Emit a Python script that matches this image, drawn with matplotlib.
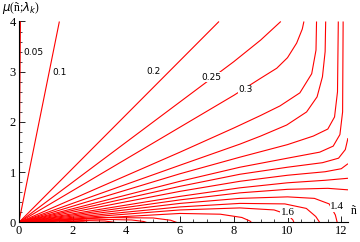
import matplotlib
matplotlib.use("Agg")
import matplotlib.pyplot as plt
import numpy as np

# contour levels and traced curves (n, mu)
lv_005 = [(0, 0), (0.06, 4)]
lv_01 = [(0, 0), (1.51, 4)]
lv_02 = [(0, 0), (7.45, 4)]
lv_025 = [(0, 0), (8.0, 3.2), (9.0, 3.63), (9.75, 4)]
lv_03 = [(0, 0), (8.0, 2.53), (9.0, 2.87), (9.6, 3.07), (10.0, 3.28), (10.34, 3.57), (10.55, 3.85), (10.61, 4)]
lv_035 = [(0, 0), (6.0, 1.40), (8.0, 1.88), (9.0, 2.13), (9.72, 2.32), (10.46, 2.58), (10.9, 2.96), (11.06, 3.43), (11.08, 4)]
lv_04 = [(0, 0), (6.0, 1.14), (8.23, 1.56), (9.0, 1.72), (9.97, 1.94), (10.71, 2.2), (11.1, 2.5), (11.3, 2.9), (11.4, 3.4), (11.42, 4)]
lv_045 = [(0, 0), (6.0, 0.97), (8.23, 1.3), (10.0, 1.55), (10.96, 1.72), (11.5, 1.86), (11.75, 2.1), (11.86, 2.6), (11.89, 4)]
lv_05 = [(0, 0), (6.0, 0.82), (8.23, 1.1), (10.0, 1.28), (11.2, 1.4), (11.7, 1.52), (11.95, 1.75), (12.05, 2.2), (12.07, 4)]
lv_055 = [(0, 0), (6.0, 0.72), (8.23, 0.96), (10.0, 1.1), (11.3, 1.19), (11.9, 1.28), (12.15, 1.45), (12.25, 1.68)]
lv_06 = [(0, 0), (6.0, 0.62), (8.23, 0.82), (10.0, 0.94), (11.4, 1.01), (12.0, 1.07), (12.25, 1.17)]
lv_07 = [(0, 0), (6.0, 0.52), (8.23, 0.69), (10.0, 0.79), (11.4, 0.84), (12.25, 0.88)]
lv_10 = [(0, 0), (6.0, 0.45), (8.23, 0.59), (10.0, 0.66), (11.5, 0.68), (12.25, 0.65)]
lv_14 = [(0, 0), (6.0, 0.38), (8.23, 0.48), (10.0, 0.51), (11.0, 0.48), (11.55, 0.37), (11.78, 0.15), (11.85, 0.0)]
lv_15 = [(0, 0), (6.0, 0.31), (8.23, 0.38), (9.9, 0.37), (10.7, 0.28), (11.05, 0.12), (11.2, 0.0)]
lv_16 = [(0, 0), (6.0, 0.25), (8.23, 0.29), (9.5, 0.25), (10.0, 0.16), (10.2, 0.05), (10.24, 0.0)]
lv_18 = [(0, 0), (6.0, 0.18), (7.5, 0.165), (8.3, 0.1), (8.6, 0.03), (8.66, 0.0)]
lv_20 = [(0, 0), (3.0, 0.1), (5.0, 0.09), (5.65, 0.045), (5.88, 0.0)]
lv_22 = [(0, 0), (2.5, 0.07), (4.2, 0.05), (4.65, 0.02), (4.76, 0.0)]
lv_25 = [(0, 0), (2.0, 0.045), (3.2, 0.03), (3.6, 0.0)]
lv_30 = [(0, 0), (1.5, 0.025), (2.4, 0.015), (2.6, 0.0)]

curves = [lv_005, lv_01, lv_02, lv_025, lv_03, lv_035, lv_04, lv_045, lv_05,
          lv_055, lv_06, lv_07, lv_10, lv_14, lv_15, lv_16, lv_18, lv_20, lv_22,
          lv_25, lv_30]

labels = ["0.05", "0.1", "0.2", "0.25", "0.3", "1.6", "1.4"]
label_pos = [(0.55, 3.38), (1.52, 2.99), (5.0, 3.0), (7.15, 2.89), (8.45, 2.64), (10.0, 0.19), (11.85, 0.31)]
label_font = ["sans", "sans", "sans", "sans", "sans", "serif", "serif"]

fig = plt.figure(figsize=(3.6, 2.42), dpi=100)
ax = fig.add_axes([0.0522, 0.0806, 0.9144, 0.8306])
ax.set_xlim(0, 12.25)
ax.set_ylim(0, 4)

for c in curves:
    xs = [p[0] for p in c]
    ys = [p[1] for p in c]
    ax.plot(xs, ys, color="#ff0000", lw=0.8, solid_capstyle="butt")

for t, (x, y), f in zip(labels, label_pos, label_font):
    fam = "Liberation Serif" if f == "serif" else "DejaVu Sans"
    ax.text(x, y, t, ha="center", va="center", fontsize=6.5 if f == "sans" else 8,
            family=fam, bbox=dict(facecolor="white", edgecolor="none", pad=0.3))

for s in ["top", "right"]:
    ax.spines[s].set_visible(False)
for s in ["left", "bottom"]:
    ax.spines[s].set_linewidth(0.8)

ax.set_xticks([0, 2, 4, 6, 8, 10, 12])
ax.set_yticks([0, 1, 2, 3, 4])
ax.set_xticks(np.arange(0, 12.26, 0.5), minor=True)
ax.set_yticks(np.arange(0, 4.01, 0.2), minor=True)
ax.tick_params(which="both", direction="in", labelsize=9)
ax.tick_params(which="major", length=4, width=0.6)
ax.tick_params(which="minor", length=2, width=0.5)
for lab in ax.get_xticklabels() + ax.get_yticklabels():
    lab.set_family("Liberation Serif")
ax.tick_params(axis="x", pad=1.5)
ax.tick_params(axis="y", pad=2)

fig.text(0.005, 0.965, r"$\mu$(ñ;$\lambda_k$)", fontsize=8.5, family="Liberation Serif", va="center", ha="left")
fig.text(0.975, 0.13, "ñ", fontsize=8.5, family="Liberation Serif", va="center", ha="left")

fig.savefig("out.png", dpi=100)
